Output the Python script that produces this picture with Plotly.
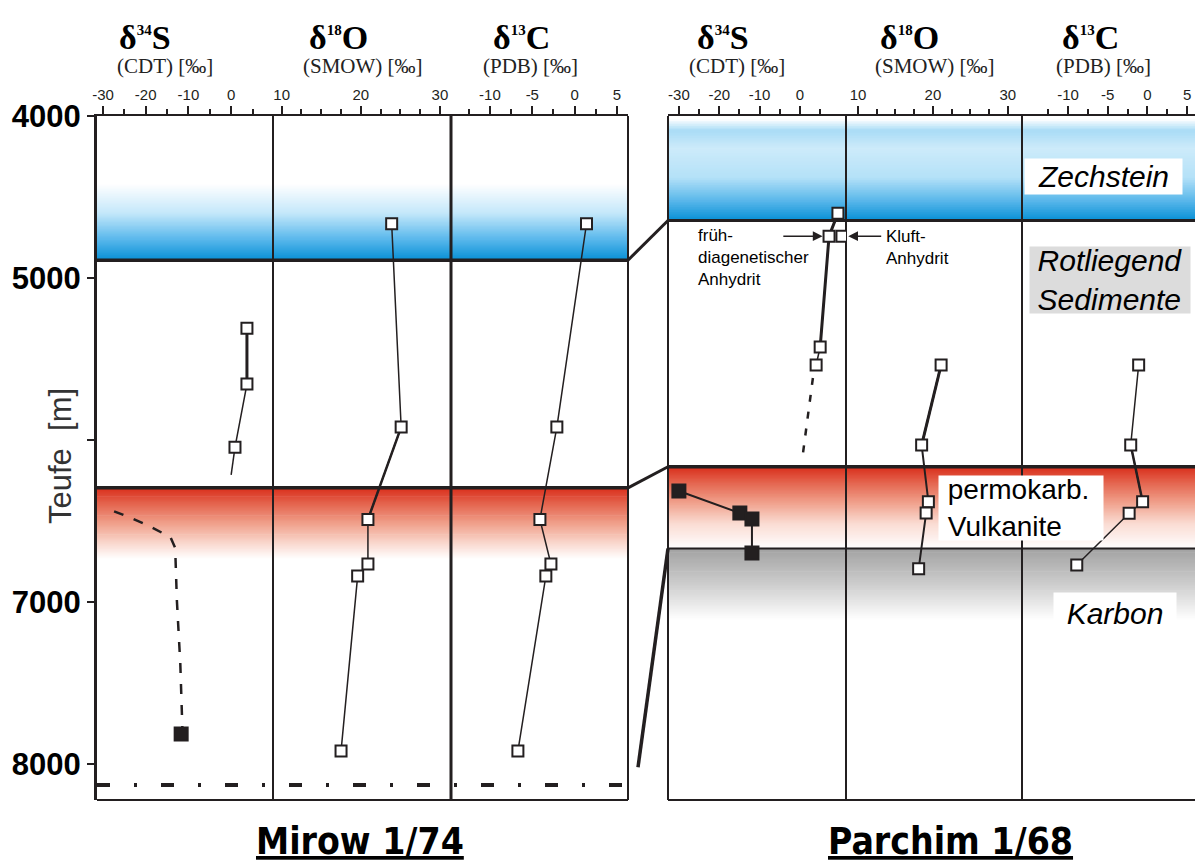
import plotly.graph_objects as go

W, H = 1195, 862
def px(x): return x / W
def py(y): return 1 - y / H

# ---------------- data ----------------
# Mirow 1/74
mirow_s_depth = [5310, 5655, 6045]
mirow_s_val = [3.7, 3.7, 0.9]
mirow_s_tail_depth = [6045, 6215]
mirow_s_tail_val = [0.9, 0.0]
mirow_s_volc_trend_depth = [6440, 6480, 6525, 6565, 6600, 6665, 6990, 7380, 7790]
mirow_s_volc_trend_val = [-27.4, -23.5, -19.6, -16.8, -14.2, -13.1, -12.7, -11.9, -11.4]
mirow_s_volc_depth = [7815]
mirow_s_volc_val = [-11.7]
mirow_oc_depth = [4665, 5920, 6490, 6765, 6840, 7920]
mirow_o_val = [23.9, 25.1, 20.9, 20.9, 19.6, 17.5]
mirow_c_val = [1.4, -2.1, -4.1, -2.8, -3.4, -6.7]

# Parchim 1/68
parchim_s_depth = [4600, 4742, 5426, 5537]
parchim_s_val = [9.4, 7.2, 5.0, 4.0]
parchim_s_kluft_depth = [4742]
parchim_s_kluft_val = [10.4]
parchim_s_trend_depth = [5617, 6080]
parchim_s_trend_val = [3.2, 0.75]
parchim_s_volc_depth = [6315, 6451, 6488, 6698]
parchim_s_volc_val = [-30.0, -14.9, -11.9, -11.9]
parchim_o_depth = [5537, 6031, 6381, 6450, 6795]
parchim_o_val = [21.1, 18.5, 19.4, 19.1, 18.1]
parchim_c_depth = [5537, 6031, 6381, 6452, 6772]
parchim_c_val = [-1.1, -2.1, -0.6, -2.3, -8.9]

# formation boundaries (depth, m)
mirow_zechstein_base = 4890
mirow_volcanite_top = 6295
mirow_total_depth = 8130
parchim_zechstein_base = 4645
parchim_volcanite_top = 6165
parchim_karbon_top = 6670
karbon_link_depth = 8020

depth_ticks = [4000, 5000, 7000, 8000]
depth_minor = [6000]

s_ticks = [-30, -20, -10, 0]
s_minor = [-25, -15, -5, 5]
o_ticks = [10, 20, 30]
o_minor = [12.5, 15, 17.5, 22.5, 25, 27.5]
c_ticks = [-10, -5, 0, 5]
c_minor = [-12.5, -7.5, -2.5, 2.5]

# ---------------- layout geometry ----------------
INK = "#231f20"
FONT = "Liberation Sans, Arial, sans-serif"
SERIF = "Liberation Serif, Times New Roman, serif"

dom = {
    "x":  (px(97),  px(273)),
    "x2": (px(273), px(451)),
    "x3": (px(451), px(628)),
    "x4": (px(668), px(846)),
    "x5": (px(846), px(1022)),
    "x6": (px(1022), 1.0),
}
rng = {
    "x":  [-31.4, 9.8],
    "x2": [8.9, 31.4],
    "x3": [-14.6, 6.3],
    "x4": [-32.7, 11.4],
    "x5": [8.4, 31.9],
    "x6": [-15.8, 6.0],
}
ticks = {"x": (s_ticks, s_minor), "x2": (o_ticks, o_minor), "x3": (c_ticks, c_minor),
         "x4": (s_ticks, s_minor), "x5": (o_ticks, o_minor), "x6": (c_ticks, c_minor)}

y_dom = (py(800), py(116))
y_rng = [8222, 4000]

fig = go.Figure()

def add_line(xa, xs, ys, width=1.5, dash=None):
    fig.add_trace(go.Scatter(x=xs, y=ys, xaxis=xa, yaxis="y", mode="lines",
                             line=dict(color=INK, width=width, dash=dash),
                             hoverinfo="skip", showlegend=False))

def add_markers(xa, xs, ys, filled=False):
    fig.add_trace(go.Scatter(x=xs, y=ys, xaxis=xa, yaxis="y", mode="markers",
                             marker=dict(symbol="square", size=13 if filled else 11,
                                         color=INK if filled else "white",
                                         line=dict(color=INK, width=2)),
                             showlegend=False))

def seg(vals, i):
    return vals[i:i + 2]

# --- Mirow lines
add_line("x", mirow_s_val, mirow_s_depth)
add_line("x", seg(mirow_s_val, 0), seg(mirow_s_depth, 0), width=3)
add_line("x", mirow_s_tail_val, mirow_s_tail_depth)
add_line("x", mirow_s_volc_trend_val, mirow_s_volc_trend_depth, width=2.5, dash="10px,11px")
add_line("x", [mirow_s_volc_trend_val[-1], mirow_s_volc_val[0]],
         [mirow_s_volc_trend_depth[-1], mirow_s_volc_depth[0]], width=2.5)
add_line("x2", mirow_o_val, mirow_oc_depth)
add_line("x2", seg(mirow_o_val, 1), seg(mirow_oc_depth, 1), width=2.5)
add_line("x3", mirow_c_val, mirow_oc_depth)
# --- Parchim lines
add_line("x4", parchim_s_val, parchim_s_depth)
add_line("x4", parchim_s_val[:3], parchim_s_depth[:3], width=3)
add_line("x4", parchim_s_trend_val, parchim_s_trend_depth, width=2.5, dash="7px,10px")
add_line("x4", parchim_s_volc_val, parchim_s_volc_depth, width=2)
add_line("x5", parchim_o_val, parchim_o_depth, width=2)
add_line("x5", seg(parchim_o_val, 0), seg(parchim_o_depth, 0), width=3)
add_line("x6", parchim_c_val, parchim_c_depth)
add_line("x6", seg(parchim_c_val, 1), seg(parchim_c_depth, 1), width=2.5)

# --- markers
add_markers("x", mirow_s_val, mirow_s_depth)
add_markers("x", mirow_s_volc_val, mirow_s_volc_depth, filled=True)
add_markers("x2", mirow_o_val, mirow_oc_depth)
add_markers("x3", mirow_c_val, mirow_oc_depth)
add_markers("x4", parchim_s_val, parchim_s_depth)
add_markers("x4", parchim_s_kluft_val, parchim_s_kluft_depth)
add_markers("x4", parchim_s_volc_val, parchim_s_volc_depth, filled=True)
add_markers("x5", parchim_o_val, parchim_o_depth)
add_markers("x6", parchim_c_val, parchim_c_depth)

# ---------------- background bands (gradients) ----------------
shapes = []

def hex2rgb(h):
    h = h.lstrip("#")
    return tuple(int(h[i:i + 2], 16) for i in (0, 2, 4))

def interp(stops, d):
    for (d0, c0), (d1, c1) in zip(stops[:-1], stops[1:]):
        if d0 <= d <= d1:
            t = (d - d0) / (d1 - d0) if d1 != d0 else 0
            a, b = hex2rgb(c0), hex2rgb(c1)
            return "rgb(%d,%d,%d)" % tuple(round(a[k] + (b[k] - a[k]) * t) for k in range(3))
    return stops[-1][1]

def band(x0, x1, stops, n=60):
    d_start, d_end = stops[0][0], stops[-1][0]
    step = (d_end - d_start) / n
    for i in range(n):
        da = d_start + i * step
        db = da + step
        shapes.append(dict(type="rect", xref="paper", yref="y", x0=x0, x1=x1,
                           y0=da, y1=min(db + step * 0.6, d_end), layer="below",
                           line=dict(width=0), fillcolor=interp(stops, (da + db) / 2)))

mir_x0, mir_x1 = dom["x"][0], dom["x3"][1]
par_x0, par_x1 = dom["x4"][0], dom["x6"][1]

band(mir_x0, mir_x1, [(4420, "#ffffff"), (4600, "#c4e8fa"), (4760, "#5ab8ec"),
                      (mirow_zechstein_base, "#0890d5")])
band(par_x0, par_x1, [(4020, "#ffffff"), (4090, "#a9dcf6"), (4200, "#cdebfa"),
                      (4380, "#b4e1f8"), (4530, "#55b5ea"), (parchim_zechstein_base, "#0890d5")])
band(mir_x0, mir_x1, [(mirow_volcanite_top, "#d92e1b"), (mirow_volcanite_top + 90, "#e3604a"),
                      (mirow_volcanite_top + 220, "#f0a08b"), (mirow_volcanite_top + 350, "#fadbd2"),
                      (mirow_volcanite_top + 440, "#ffffff")])
band(par_x0, par_x1, [(parchim_volcanite_top, "#d92e1b"), (parchim_volcanite_top + 90, "#e3604a"),
                      (parchim_volcanite_top + 220, "#f0a08b"), (parchim_volcanite_top + 350, "#fadbd2"),
                      (parchim_karbon_top, "#ffffff")])
band(par_x0, par_x1, [(parchim_karbon_top, "#a2a2a2"), (parchim_karbon_top + 220, "#cdcdcd"),
                      (parchim_karbon_top + 440, "#ffffff")])

def hline(x0, x1, d, width):
    shapes.append(dict(type="line", xref="paper", yref="y", x0=x0, x1=x1, y0=d, y1=d,
                       layer="below", line=dict(color=INK, width=width)))

def vline(xref, width):
    shapes.append(dict(type="line", xref=xref, yref="y domain", x0=0, x1=0, y0=0, y1=1,
                       layer="below", line=dict(color=INK, width=width)))

hline(mir_x0, mir_x1, mirow_zechstein_base, 3.5)
hline(mir_x0, mir_x1, mirow_volcanite_top, 3.5)
hline(par_x0, par_x1, parchim_zechstein_base, 3)
hline(par_x0, par_x1, parchim_volcanite_top, 3.5)
hline(par_x0, par_x1, parchim_karbon_top, 2)

# dividers and frames
vline("x2 domain", 2)
vline("x3 domain", 3)
shapes.append(dict(type="line", xref="x3 domain", yref="y domain", x0=1, x1=1, y0=0, y1=1,
                   layer="below", line=dict(color=INK, width=2)))
vline("x4 domain", 2)
vline("x5 domain", 2)
vline("x6 domain", 2)
for x0, x1 in [(mir_x0, mir_x1), (par_x0, par_x1)]:
    shapes.append(dict(type="line", xref="paper", yref="y domain", x0=x0, x1=x1, y0=0, y1=0,
                       layer="below", line=dict(color=INK, width=2)))

# total depth Mirow (dash-dot)
shapes.append(dict(type="line", xref="paper", yref="y", x0=mir_x0, x1=mir_x1,
                   y0=mirow_total_depth, y1=mirow_total_depth, layer="below",
                   line=dict(color=INK, width=4, dash="13px,24px,3px,24px")))

# correlation lines between wells
shapes.append(dict(type="line", xref="paper", yref="y", x0=mir_x1, x1=par_x0,
                   y0=mirow_zechstein_base, y1=parchim_zechstein_base, layer="below",
                   line=dict(color=INK, width=3)))
shapes.append(dict(type="line", xref="paper", yref="y", x0=mir_x1, x1=par_x0,
                   y0=mirow_volcanite_top, y1=parchim_volcanite_top, layer="below",
                   line=dict(color=INK, width=3)))
shapes.append(dict(type="line", xref="paper", yref="y", x0=mir_x1 + (par_x0 - mir_x1) * 0.25,
                   x1=par_x0, y0=karbon_link_depth, y1=parchim_karbon_top, layer="below",
                   line=dict(color=INK, width=3.5)))

# ---------------- axes ----------------
layout = dict(
    width=W, height=H,
    margin=dict(l=0, r=0, t=0, b=0, autoexpand=False),
    paper_bgcolor="white", plot_bgcolor="rgba(0,0,0,0)",
    showlegend=False,
    font=dict(family=FONT, color=INK),
    shapes=shapes,
)
for k in ["x", "x2", "x3", "x4", "x5", "x6"]:
    name = "xaxis" if k == "x" else "xaxis" + k[1:]
    tv, mv = ticks[k]
    layout[name] = dict(
        domain=list(dom[k]), range=rng[k], anchor="y", side="top", automargin=False,
        showgrid=False, zeroline=False, showline=True, linecolor=INK, linewidth=2,
        ticks="outside", ticklen=8, tickwidth=2, tickcolor=INK,
        tickmode="array", tickvals=tv, ticktext=[str(v) for v in tv],
        tickfont=dict(size=15, family=FONT, color=INK),
        minor=dict(tickmode="array", tickvals=mv, ticks="outside", ticklen=5,
                   tickwidth=1.5, tickcolor=INK),
        fixedrange=True,
    )
layout["yaxis"] = dict(
    domain=list(y_dom), range=y_rng, anchor="x", automargin=False,
    showgrid=False, zeroline=False, showline=True, linecolor=INK, linewidth=3,
    ticks="outside", ticklen=7, tickwidth=2, tickcolor=INK,
    tickmode="array", tickvals=depth_ticks, ticktext=[str(v) for v in depth_ticks],
    tickfont=dict(size=31, family=FONT, color="black", weight="bold"),
    minor=dict(tickmode="array", tickvals=depth_minor, ticks="outside", ticklen=7,
               tickwidth=1.5, tickcolor=INK),
)
fig.update_layout(**layout)

# ---------------- text ----------------
ann = []
def text(x, y, t, size, family=FONT, **kw):
    d = dict(x=px(x), y=py(y), xref="paper", yref="paper", text=t, showarrow=False,
             font=dict(size=size, family=family, color=kw.pop("color", "black")),
             xanchor=kw.pop("xanchor", "center"), yanchor=kw.pop("yanchor", "middle"))
    d.update(kw)
    ann.append(d)

hdr = [(145, 165, "34", "S", "(CDT) [‰]"), (338, 363, "18", "O", "(SMOW) [‰]"),
       (521, 530, "13", "C", "(PDB) [‰]"), (723, 737, "34", "S", "(CDT) [‰]"),
       (909, 935, "18", "O", "(SMOW) [‰]"), (1090, 1103, "13", "C", "(PDB) [‰]")]
for xh, xs, iso, el, sub in hdr:
    text(xh, 37, "<b>δ<sup><span style='font-size:15px'>%s</span></sup>%s</b>" % (iso, el), 34, SERIF)
    text(xs, 66, sub, 21, SERIF, color="#222222")

text(60, 456, "Teufe  [m]", 31, textangle=-90, color="#333333")

TFONT = "Liberation Sans Narrow, Arial Narrow, DejaVu Sans Condensed, sans-serif"
text(360, 841, "<b><u>Mirow 1/74</u></b>", 37, TFONT)
text(950, 841, "<b><u>Parchim 1/68</u></b>", 37, TFONT)

text(1103, 176, "<i>Zechstein</i>", 30, bgcolor="white", width=155, height=33)
text(1110, 280, "<i>Rotliegend<br>Sedimente</i>", 30, bgcolor="#dcdcdc", width=158, height=64)
text(1115, 613, "<i>Karbon</i>", 30, bgcolor="white", width=120, height=38)
text(1021, 508, "&nbsp;permokarb.<br>&nbsp;Vulkanite", 28, bgcolor="white", width=162, height=62,
     align="left")

text(696, 258, "früh-<br>diagenetischer<br>Anhydrit", 17, xanchor="left", align="left")
text(884, 247, "Kluft-<br>Anhydrit", 17, xanchor="left", align="left")

# arrows pointing at the two anhydrite samples
ann.append(dict(x=5.6, y=parchim_s_depth[1], xref="x4", yref="y",
                ax=-4.5, ay=parchim_s_depth[1], axref="x4", ayref="y", text="",
                showarrow=True, arrowhead=2, arrowsize=1.3, arrowwidth=1.5, arrowcolor=INK,
                standoff=0, startstandoff=0))
ann.append(dict(x=8.7, y=parchim_s_kluft_depth[0], xref="x5", yref="y",
                ax=13.3, ay=parchim_s_kluft_depth[0], axref="x5", ayref="y", text="",
                showarrow=True, arrowhead=2, arrowsize=1.3, arrowwidth=1.5, arrowcolor=INK,
                standoff=0, startstandoff=0))

fig.update_layout(annotations=ann)
fig.write_html("out.html")
